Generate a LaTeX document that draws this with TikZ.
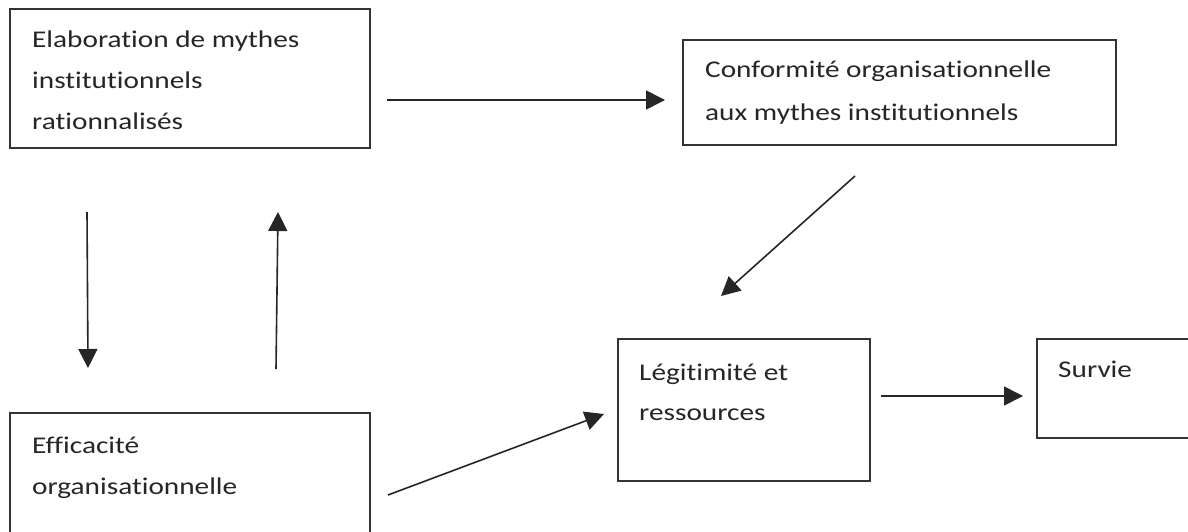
\documentclass[tikz,border=0pt]{standalone}
\usepackage{fontspec}
\setmainfont{Carlito}[FakeStretch=1.22,Ligatures=NoCommon]
\usetikzlibrary{arrows.meta}
\definecolor{ink}{HTML}{333333}
\definecolor{txt}{HTML}{262626}
\tikzset{
  box/.style={draw=ink, line width=1.4pt, rectangle},
  lbl/.style={anchor=base west, inner sep=0pt, text=txt, font=\fontsize{24}{28}\selectfont},
  arr/.style={draw=black!85, line width=1.6pt, -{Triangle[length=19pt,width=19pt]}}
}
\begin{document}
\begin{tikzpicture}[x=1pt,y=-1pt]
\begin{scope}
\clip (0,0) rectangle (1188,532);
\fill[white] (0,0) rectangle (1188,532);
% boxes
\draw[box] (10,9) rectangle (370,148);
\draw[box] (683,40) rectangle (1116,145);
\draw[box] (618,339) rectangle (870,481);
\draw[box] (1037,339) rectangle (1200,438);
\draw[box] (10,413) rectangle (370,545);
% texts
\node[lbl] (t1a) at (32,48) {Elaboration de mythes};
\node[lbl] (t1b) at (32,89) {institutionnels};
\node[lbl] (t1c) at (32,130) {rationnalisés};
\node[lbl] (t2a) at (705,78) {Conformité organisationnelle};
\node[lbl] (t2b) at (705,121) {aux mythes institutionnels};
\node[lbl] (t3a) at (639,380) {Légitimité et};
\node[lbl] (t3b) at (639,420) {ressources};
\node[lbl] (t4a) at (1058,377) {Survie};
\node[lbl] (t5a) at (32,453) {Efficacité};
\node[lbl] (t5b) at (32,494) {organisationnelle};
% arrow endpoints
\coordinate (a1s) at (387,100);  \coordinate (a1e) at (665,100);
\coordinate (a2s) at (855,176);  \coordinate (a2e) at (721,296);
\coordinate (a3s) at (881,396);  \coordinate (a3e) at (1023,396);
\coordinate (a4s) at (388,495);  \coordinate (a4e) at (604,414);
\coordinate (a5s) at (87,212);   \coordinate (a5e) at (88,368);
\coordinate (a6s) at (276,369);  \coordinate (a6e) at (278,212);
\draw[arr] (a1s) -- (a1e);
\draw[arr] (a2s) -- (a2e);
\draw[arr] (a3s) -- (a3e);
\draw[arr] (a4s) -- (a4e);
\draw[arr] (a5s) -- (a5e);
\draw[arr] (a6s) -- (a6e);
\end{scope}
\pgfresetboundingbox
\useasboundingbox (0,0) rectangle (1188,532);
\end{tikzpicture}
\end{document}
